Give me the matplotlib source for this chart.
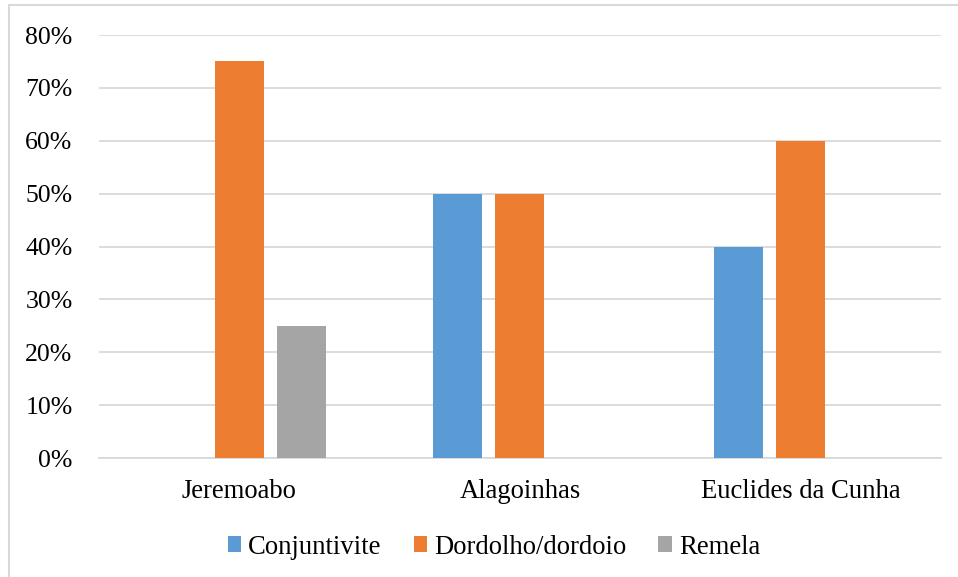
import numpy as np
import matplotlib.pyplot as plt
from matplotlib.lines import Line2D
from matplotlib.ticker import PercentFormatter

plt.rcParams['font.family'] = ['Liberation Serif', 'DejaVu Serif']

cities = ['Jeremoabo', 'Alagoinhas', 'Euclides da Cunha']
series = ['Conjuntivite', 'Dordolho/dordoio', 'Remela']
conjuntivite = [0.0, 0.50, 0.40]
dordolho = [0.75, 0.50, 0.60]
remela = [0.25, 0.0, 0.0]
colors = ['#5B9BD5', '#ED7D31', '#A5A5A5']

fig = plt.figure(figsize=(9.58, 5.77), dpi=100)
ax = fig.add_axes([0.1033, 0.2062, 0.8789, 0.7331])

x = np.arange(len(cities))
width = 0.1745
offset = 0.221
for i, (vals, name) in enumerate(zip([conjuntivite, dordolho, remela], series)):
    ax.bar(x + (i - 1) * offset, vals, width, color=colors[i], label=name, zorder=3)

ax.set_xlim(-0.5, 2.5)
ax.set_ylim(0, 0.8)
ax.set_yticks(np.arange(0, 0.81, 0.1))
ax.yaxis.set_major_formatter(PercentFormatter(1.0, decimals=0))
ax.set_xticks(x)
ax.set_xticklabels(cities)
ax.grid(axis='y', color='#D9D9D9', linewidth=1.3, zorder=0)
ax.tick_params(axis='y', length=0, labelsize=18.5, pad=19)
ax.tick_params(axis='x', length=0, labelsize=19.2, pad=15)
for side in ['top', 'right', 'left']:
    ax.spines[side].set_visible(False)
ax.spines['bottom'].set_color('#D9D9D9')
ax.spines['bottom'].set_linewidth(1.3)

fig.legend(loc='center', bbox_to_anchor=(494 / 958, 1 - 547 / 577), ncol=3,
           frameon=False, fontsize=19.2, handlelength=0.5, handleheight=0.5,
           handletextpad=0.27, columnspacing=1.2)

# light frame around the chart area
fig.add_artist(Line2D([0.0099, 1.0], [0.9905, 0.9905], color='#D9D9D9', lw=1.5))
fig.add_artist(Line2D([0.0099, 0.0099], [0.0, 0.9905], color='#D9D9D9', lw=1.5))

fig.savefig('out.png', dpi=100, facecolor='white')
